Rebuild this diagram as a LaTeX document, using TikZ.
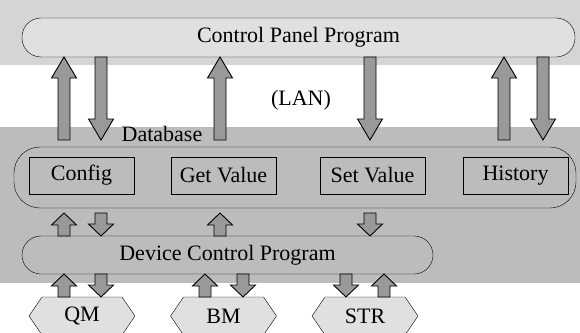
\documentclass[tikz,border=0pt]{standalone}
\usepackage{fontspec}
\setmainfont{Liberation Serif}
\usetikzlibrary{calc}
\pgfdeclarelayer{back}
\pgfdeclarelayer{bg}
\pgfsetlayers{back,bg,main}
\definecolor{bandA}{HTML}{D5D5D5}
\definecolor{bandB}{HTML}{BCBCBC}
\definecolor{cpfill}{HTML}{E0E0E0}
\definecolor{arrfill}{HTML}{999999}
\definecolor{hexfill}{HTML}{E0E0E0}
\newcommand\blkarrow[3]{%
  \draw[blk] let \p1=#1, \p2=#2, \n1={ifthenelse(\y2>\y1,1,-1)} in
  ({\x1-6pt},\y1) -- ({\x1-6pt},{\y2-\n1*#3}) -- ({\x1-12.5pt},{\y2-\n1*#3}) -- (\x2,\y2)
  -- ({\x1+12.5pt},{\y2-\n1*#3}) -- ({\x1+6pt},{\y2-\n1*#3}) -- ({\x1+6pt},\y1) -- cycle;}
\begin{document}
\begin{tikzpicture}[x=1pt,y=-1pt,line width=1pt,
  every node/.style={inner sep=0pt,outer sep=0pt,font=\rmfamily\fontsize{22}{26}\selectfont},
  stadium/.style={draw,fill=cpfill,rounded corners=19pt},
  dbbox/.style={draw,fill=bandB,rounded corners=26pt},
  itembox/.style={draw,fill=bandB,minimum width=105pt,minimum height=37pt},
  hexnode/.style={minimum width=106pt,minimum height=38pt},
  hexpath/.style={draw,fill=hexfill},
  blk/.style={draw,fill=arrfill,line width=0.9pt}]
\useasboundingbox (0,0) rectangle (580,332);
\begin{pgfonlayer}{back}
  \fill[bandA] (0,0) rectangle (580,65);
  \fill[bandB] (0,127) rectangle (580,283);
\end{pgfonlayer}
% top program
\node[stadium,minimum width=553pt,minimum height=39pt] (cp) at (298.5,37.5) {Control Panel Program};
\node (lan) at (301,100) {(LAN)};
\node (dblabel) at (162,134) {Database};
% database
\node[dbbox,minimum width=562pt,minimum height=61pt] (db) at (295,177.5) {};
\node[itembox] (cfg) at (81.5,175.5) {Config};
\node[itembox] (get) at (223.5,175.5) {Get Value};
\node[itembox] (set) at (372.5,175.5) {Set Value};
\node[itembox] (his) at (515.5,175.5) {History};
% device control
\node[stadium,fill=bandB,minimum width=411pt,minimum height=38pt] (dcp) at (227.5,255) {Device Control Program};
% hexagons
\foreach \n/\x/\t in {qm/82/QM,bm/223.5/BM,str/365/STR}{
  \node[hexnode] (\n) at (\x,316) {\t};
  \begin{pgfonlayer}{bg}
  \draw[hexpath] (\n.west) -- ([xshift=13pt]\n.north west) -- ([xshift=-13pt]\n.north east)
    -- (\n.east) -- ([xshift=-13pt]\n.south east) -- ([xshift=13pt]\n.south west) -- cycle;
  \end{pgfonlayer}
}
% top arrows
\coordinate (t1) at (64,140);
\coordinate (t2) at (101,140);
\coordinate (t3) at (220,140);
\coordinate (t4) at (370,140);
\coordinate (t5) at (504,140);
\coordinate (t6) at (543,140);
\blkarrow{(t1)}{(t1 |- cp.south)}{21pt}
\blkarrow{(t2 |- cp.south)}{(t2)}{21pt}
\blkarrow{(t3)}{(t3 |- cp.south)}{21pt}
\blkarrow{(t4 |- cp.south)}{(t4)}{21pt}
\blkarrow{(t5)}{(t5 |- cp.south)}{21pt}
\blkarrow{(t6 |- cp.south)}{(t6)}{21pt}
% middle arrows
\coordinate (m1) at (64,213);
\coordinate (m2) at (101,213);
\coordinate (m3) at (220,213);
\coordinate (m4) at (370,213);
\blkarrow{(m1 |- dcp.north)}{(m1)}{12pt}
\blkarrow{(m2)}{(m2 |- dcp.north)}{12pt}
\blkarrow{(m3 |- dcp.north)}{(m3)}{12pt}
\blkarrow{(m4)}{(m4 |- dcp.north)}{12pt}
% bottom arrows
\coordinate (b1) at (64,275);
\coordinate (b2) at (101,275);
\coordinate (b3) at (205,275);
\coordinate (b4) at (243,275);
\coordinate (b5) at (346,275);
\coordinate (b6) at (384,275);
\blkarrow{(b1 |- qm.north)}{(b1 |- dcp.south)}{12pt}
\blkarrow{(b2 |- dcp.south)}{(b2 |- qm.north)}{12pt}
\blkarrow{(b3 |- bm.north)}{(b3 |- dcp.south)}{12pt}
\blkarrow{(b4 |- dcp.south)}{(b4 |- bm.north)}{12pt}
\blkarrow{(b5 |- dcp.south)}{(b5 |- str.north)}{12pt}
\blkarrow{(b6 |- str.north)}{(b6 |- dcp.south)}{12pt}
\end{tikzpicture}
\end{document}
